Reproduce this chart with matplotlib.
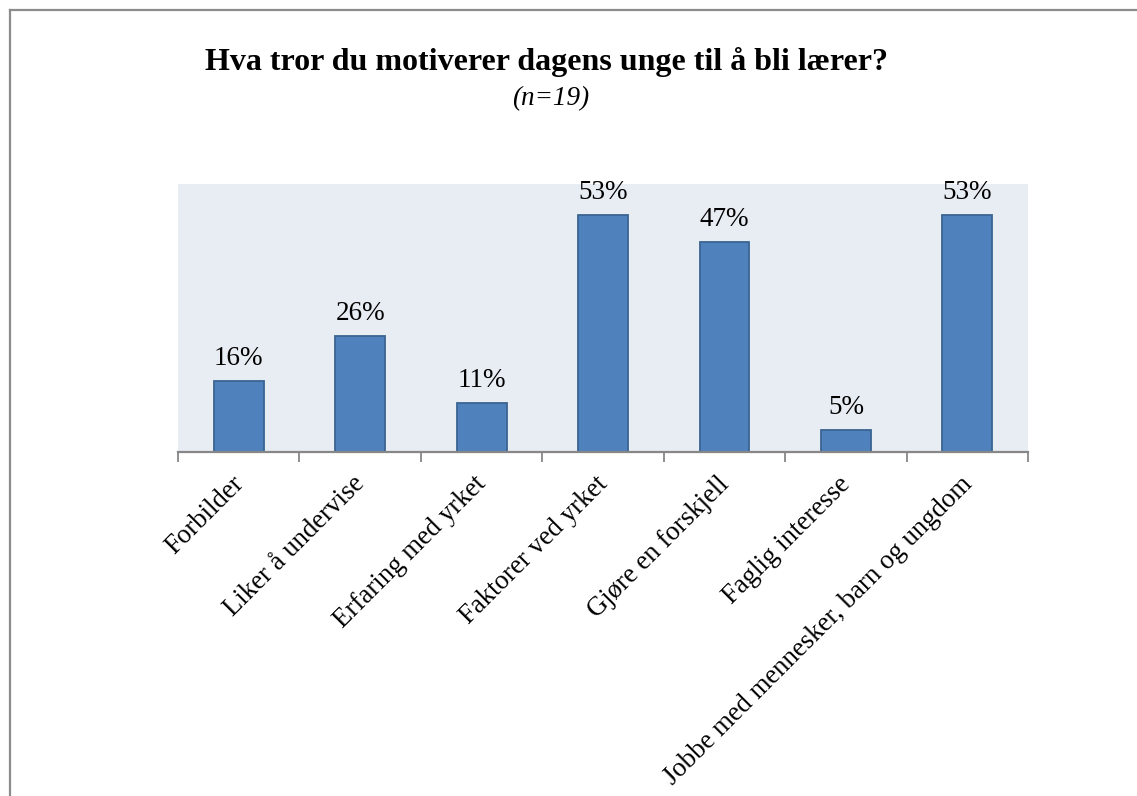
#!/usr/bin/env python3
"""Bar chart: what motivates young people to become teachers (n=19)."""

import matplotlib
matplotlib.use("Agg")
import matplotlib.pyplot as plt
from matplotlib.lines import Line2D
from matplotlib.transforms import ScaledTranslation
import numpy as np

categories = [
    "Forbilder",
    "Liker å undervise",
    "Erfaring med yrket",
    "Faktorer ved yrket",
    "Gjøre en forskjell",
    "Faglig interesse",
    "Jobbe med mennesker, barn og ungdom",
]
percent = [16, 26, 11, 53, 47, 5, 53]

TITLE = "Hva tror du motiverer dagens unge til å bli lærer?"
SUBTITLE = "(n=19)"

plt.rcParams["font.family"] = ["Liberation Serif", "DejaVu Serif"]

fig = plt.figure(figsize=(11.37, 7.96), dpi=100)
ax = fig.add_axes([0.1566, 0.432, 0.7476, 0.337])
ax.set_facecolor("#E8ECF3")

x = np.arange(len(categories))
ax.bar(x, percent, width=0.41, color="#4F81BD", edgecolor="#3A6491",
       linewidth=1.3, zorder=2)

for xi, v in zip(x, percent):
    ax.annotate(f"{v}%", (xi, v), xytext=(0, 7), textcoords="offset points",
                ha="center", va="bottom", fontsize=19.5)

ax.set_xlim(-0.5, len(categories) - 0.5)
ax.set_ylim(0, 60)
ax.set_yticks([])

# labels at bar centres, tick marks on category boundaries
ax.set_xticks(x)
ax.set_xticklabels(categories, rotation=45, ha="right", rotation_mode="anchor",
                   fontsize=19.3)
ax.tick_params(axis="x", which="major", length=0, pad=14)
shift = ScaledTranslation(-8 / 100, 0, fig.dpi_scale_trans)
for lbl in ax.get_xticklabels():
    lbl.set_transform(lbl.get_transform() + shift)
ax.set_xticks(np.arange(-0.5, len(categories)), minor=True)
ax.tick_params(axis="x", which="minor", length=7, width=1.3,
               color="#878787", direction="out")

for side in ("left", "right", "top"):
    ax.spines[side].set_visible(False)
ax.spines["bottom"].set_color("#878787")
ax.spines["bottom"].set_linewidth(1.6)

fig.text(0.481, 0.922, TITLE, ha="center", va="center", fontsize=23,
         fontweight="bold")
fig.text(0.484, 0.876, SUBTITLE, ha="center", va="center", fontsize=19.5,
         style="italic")

# frame around the chart area
fig.add_artist(Line2D([0.0088, 0.0088], [0.0, 0.9874], color="#8C8C8C",
                      linewidth=1.6, transform=fig.transFigure))
fig.add_artist(Line2D([0.0088, 1.0], [0.9874, 0.9874], color="#8C8C8C",
                      linewidth=1.6, transform=fig.transFigure))

fig.savefig("out.png", dpi=100)
